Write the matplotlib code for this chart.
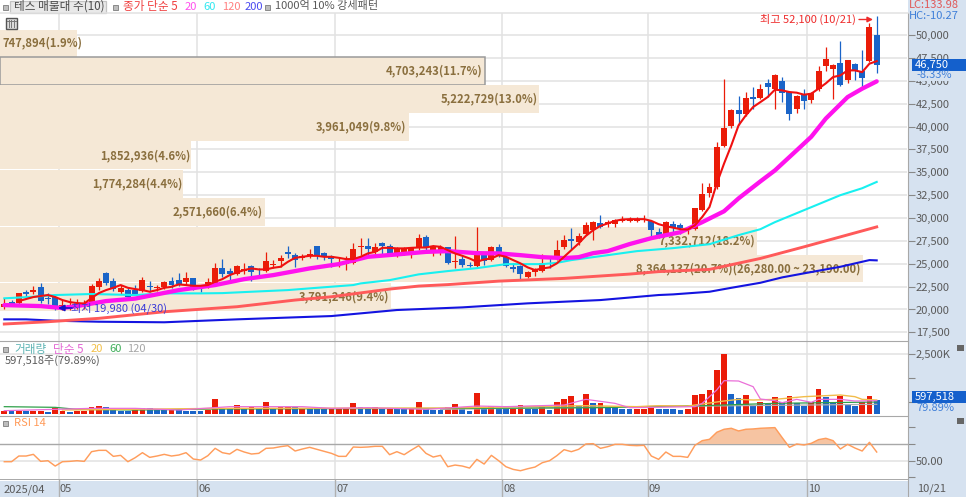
import matplotlib
matplotlib.use("Agg")
import matplotlib.pyplot as plt
from matplotlib.patches import Rectangle

plt.rcParams['font.family'] = ['Noto Sans CJK KR', 'DejaVu Sans']

W, H = 966, 497

# ---- candles (won) ----
opens = [20300,20780,20740,21900,21940,22420,21280,21400,20100,20300,
         20400,20350,20780,22480,23980,23100,21940,22120,22120,22050,
         22560,22350,22480,23070,23210,22960,23400,22480,22480,22740,
         24500,24240,23870,24230,24710,24380,24200,24850,25290,26240,
         25980,25580,25870,26890,26200,25870,24960,24930,25040,26820,
         26960,26300,27250,26960,25940,26300,26020,26740,27980,26490,
         26300,26780,25200,25510,24850,24740,26020,25400,26780,25770,
         24600,24740,23570,24120,24200,25770,25510,26780,27690,27330,
         28240,28670,29510,29360,29400,29730,29730,29730,29800,29660,
         28420,28240,29400,29290,28670,28780,30930,32790,33400,37880,
         40060,41860,41420,43200,43160,44720,44150,44980,43780,41890,
         43600,42950,44150,46610,46330,46990,45050,46880,46040,47160,50000]
highs = [21250,21030,21800,22120,22550,22930,21790,21500,21030,21250,
         21150,21000,22800,23490,24120,23430,22670,22340,22670,23570,
         23060,22670,23100,23540,24000,24090,23450,22670,23430,25090,
         25560,24560,24820,25100,24820,24490,26300,25400,25910,26930,
         26160,26060,26630,26960,26300,25940,25620,25800,27220,27800,
         27870,27220,27400,27110,26850,26850,26850,28210,28130,27000,
         27000,26850,28040,25940,25150,29030,26250,26950,27110,25940,
         25040,24850,24200,24490,26020,25800,27580,28130,28930,28320,
         29580,29650,30310,29800,29870,30200,30100,30100,30310,29770,
         28890,29650,29660,29500,28970,31150,33830,33870,38320,45170,
         41970,43340,43810,44320,44700,45170,45710,45400,43860,43500,
         44150,43780,46630,48690,46880,49350,47300,46950,48330,51300,52100]
lows = [20050,20370,20600,21250,21690,20700,20600,19980,19950,19980,
        20000,20000,20600,22120,22700,22000,21690,21250,21580,21880,
        21940,22000,22200,22300,22600,22670,22120,21900,22370,22670,
        23540,22900,23760,23870,23100,23760,24120,24490,24600,25620,
        24600,25400,25620,25510,25400,24600,24600,24300,24930,26000,
        26000,25940,26000,25800,25760,26000,25650,26490,26300,25900,
        26000,25000,24500,24700,24600,24650,24850,25300,25770,24670,
        24120,23240,23400,23650,24120,24500,25400,26650,26650,27050,
        28130,27580,28860,29030,29060,29580,29580,29580,29580,27950,
        27800,28100,28510,28290,28290,28670,30820,32290,33230,37770,
        39850,40140,41190,41960,43000,43230,41900,42660,40760,41530,
        41880,42560,43900,46040,42980,44400,44750,45050,44250,47050,45850]
closes = [20590,20560,21760,21690,22120,20960,21170,20100,20500,20480,
          20550,20500,22600,23070,22900,22200,22300,21320,21690,23190,
          22420,22500,22960,22660,22740,23400,22300,22370,22960,24570,
          23900,23840,24710,24420,24120,24270,25290,24930,25620,26090,
          25400,25870,26090,25870,25800,25470,25100,25150,26600,26930,
          26600,26850,26960,26020,26670,26600,26670,27830,26850,26780,
          26850,25040,25280,24850,24740,25940,25320,26780,25940,24740,
          24380,23870,24120,24420,25070,25580,26490,27580,27510,27990,
          29220,29580,29030,29580,29760,29840,29870,29870,29900,28670,
          28050,29580,28860,28860,28860,31110,32610,33400,37770,39890,
          41860,41420,43120,43050,44100,44360,45600,43710,41420,43340,
          42790,43710,46070,47420,46770,44510,47240,46040,45300,50870,46750]

# ---- price moving averages (won) ----
ma5_x = list(range(2, 121))
ma5 = [20920,21140,21360,21470,21580,21360,21030,20810,20700,20650,
       21250,21790,22120,22370,22670,22370,22230,22120,21940,22120,
       22370,22480,22740,22670,22590,22590,22670,23030,23320,23760,
       24050,24310,24490,24380,24380,24560,24670,25210,25650,25760,
       25870,25870,25760,25760,25650,25510,25510,25760,26130,26300,
       26740,26740,26680,26680,26740,26780,26780,26930,26850,26490,
       26130,25870,25580,25210,25470,25580,25940,25760,25400,25040,
       24600,24310,24490,24600,25040,25760,26490,27220,28050,28670,
       29140,29410,29690,29840,29880,29880,29880,29690,29330,29110,
       28950,28780,28740,29210,30120,31210,33770,35950,37950,40140,
       41230,42140,42680,43230,44040,43960,43780,43710,43490,43600,
       44150,44730,45420,45600,46150,46150,45960,46880,47160]
ma20_x = [0,5,8,10,14,18,24,29,33,37,42,46,50,54,58,61,65,68,71,74,77,79,81,83,86,89,91,93,96,99,101,104,106,109,111,113,116,118,120]
ma20 = [20480,20370,20160,20370,20920,21190,22120,22670,23320,23760,24490,24960,25760,26020,26300,26380,26160,26130,25940,25720,25620,25720,26160,26380,27150,27800,28130,28450,29550,30740,32150,34010,35210,37410,38890,40880,43230,44150,44950]
ma60_x = [0,4,7,12,18,22,27,30,34,39,43,48,49,53,57,61,65,69,74,76,78,83,87,92,97,101,104,106,110,115,118,120]
ma60 = [21220,21390,21580,21690,21580,21760,21760,21790,21940,22120,22370,22670,22850,23210,23840,24200,24520,24960,24960,25100,25400,25940,26380,26710,27140,28130,28780,29550,30860,32500,33260,33950]
ma120_x = [0,6,13,22,32,40,45,53,57,61,68,77,86,90,97,104,110,115,120]
ma120 = [18410,18660,19030,19750,20300,21030,21390,22230,22560,22720,23100,23400,23870,24140,24380,25580,26850,27940,29030]
ma200_x = [0,3,7,13,22,32,45,54,63,72,82,90,92,97,100,104,107,110,115,119,120]
ma200 = [18920,18920,18770,18660,18600,18920,19280,19940,20230,20670,21030,21580,21650,21940,22370,22920,23510,23950,24670,25400,25370]

# ---- volume-at-price bands ----
vp_top = [50620,47560,44510,41450,38390,35280,32170,29060,25930,22940]
vp_bottom = [47600,44550,41490,38430,35320,32210,29100,25970,22980,19860]
vp_volume = [747894,4703243,5222729,3961049,1852936,1774284,2571660,7332712,8364137,3791246]
vp_labels = ['747,894(1.9%)','4,703,243(11.7%)','5,222,729(13.0%)','3,961,049(9.8%)',
             '1,852,936(4.6%)','1,774,284(4.4%)','2,571,660(6.4%)','7,332,712(18.2%)',
             '8,364,137(20.7%)(26,280.00 ~ 23,190.00)','3,791,246(9.4%)']
vp_label_shift = [5,-3,-1,-2,-1,-1,-3,-1,-3,-2]

# ---- volume (thousand shares) ----
volume = [139,111,125,111,139,139,97,250,139,97,
          111,139,306,347,278,167,139,139,167,264,
          236,167,167,167,153,139,139,139,167,639,
          236,194,375,208,306,208,486,208,306,306,
          306,194,194,194,194,194,194,194,444,306,
          194,306,208,208,208,208,208,486,208,153,
          153,306,417,208,125,861,236,333,208,208,
          208,375,208,208,333,153,486,639,750,333,
          833,444,458,278,278,208,208,208,208,264,
          208,208,208,153,208,792,833,986,1833,2500,
          833,681,792,389,500,403,722,486,750,444,
          333,486,1056,722,486,764,375,333,514,764,598]
volume_side = ("RBRBRRBRRB" "RRRRBBBBRR" "BBBRBBBBRR" "BBRBRBRBRR" "BRBBBRRRRB"
               "BRBRBBRRBB" "BRRBBRBRBB" "RRBBRBRRRB" "RBRBBBBRRR" "BBBBRRRRRR"
               "BBRBRBRBRB" "BRRBBRBBRRB")
vma5_x = [0,12,14,18,24,31,41,45,50,58,65,69,77,80,84,86,95,96,98,99,101,103,104,106,107,109,111,112,115,117,120]
vma5 = [139,236,236,236,167,306,306,236,264,194,333,306,375,611,444,264,306,444,1000,1389,1375,1139,625,556,472,611,486,611,611,542,556]
vma20_x = [8,30,60,80,87,90,94,99,101,103,106,110,115,117,118,120]
vma20 = [167,236,250,347,306,347,333,542,611,583,611,722,792,722,611,583]
vma60_x = [0,7,10,18,29,45,65,82,88,96,106,120]
vma60 = [306,278,194,167,208,222,236,264,306,347,444,500]
vma120_x = [60,87,120]
vma120 = [194,306,403]

# ---- RSI ----
rsi = [48.8,48.8,55.6,55.6,57.6,49.2,50,43.6,48.8,49.2,
       50,49.2,60.8,62.4,62.4,55.2,56.4,48.8,53.6,59.6,
       54,55.6,57.6,55.6,56.8,59.6,52,50.8,56,64.8,
       59.6,58,63.6,60.4,58,58.8,64.8,65.2,66.8,68,
       61.6,64,66,63.6,61.2,58.8,55.2,55.2,66.4,66,
       66.4,67.2,67.2,57.2,60.8,57.2,62.8,68,58.8,54.4,
       56.4,42.8,44.8,43.6,41.2,51.6,46,56.4,50,42.8,
       39.6,38,40.4,42.4,47.6,50,56,63.2,60.8,63.6,
       70,70.4,64.8,66.8,69.6,69.6,68.4,68,68.4,55.6,
       51.6,60.4,55.2,55.2,54,68.4,74,75.6,84,87.6,
       88.8,85.6,87.6,88,88.8,89.2,89.6,77.6,66,70,
       68.8,70.8,75.2,76.8,74,64,69.6,65.2,61.6,72,60.4]

# ---- axis labels ----
price_ticks = [17500,20000,22500,25000,27500,30000,32500,35000,37500,40000,42500,45000,47500,50000]
month_pos = [-0.25, 7.5, 26.5, 45.5, 68.5, 88.5, 110.4]
month_labels = ['2025/04','05','06','07','08','09','10']

RED = '#ea1c08'
BLUE = '#1a64c8'
GRID = '#e2e2e2'
PANEL = '#d6e2f0'
BORDER = '#a8a8a8'
TXT = '#5a5a5a'
BAND = '#f5e8d6'
BANDTXT = '#8a6f3e'
FS = 8.0

fig = plt.figure(figsize=(W/100, H/100), dpi=100, facecolor='white')

def rect(x0, y0, x1, y1):
    return [x0/W, 1-y1/H, (x1-x0)/W, (y1-y0)/H]

XR = 907.5
XLIM = (-4.3/7.27, (XR-4.3)/7.27)

back = fig.add_axes([0, 0, 1, 1], zorder=-5)
back.set_xlim(0, W); back.set_ylim(H, 0); back.axis('off')
back.add_patch(Rectangle((XR, 0), W-XR, H, fc=PANEL, ec='none'))
back.add_patch(Rectangle((0, 481), W, H-481, fc=PANEL, ec='none'))

PRICE_LIM = (16552, 52480)
grid_ax = fig.add_axes(rect(0, 12.5, XR, 341), zorder=0)
grid_ax.set_xlim(XLIM); grid_ax.set_ylim(PRICE_LIM); grid_ax.axis('off')
grid_ax.hlines(price_ticks, XLIM[0], XLIM[1], color=GRID, lw=1.1)
grid_ax.vlines(month_pos[1:], *PRICE_LIM, color=GRID, lw=1.1)

vp_ax = fig.add_axes(rect(0, 12.5, XR, 341), zorder=1)
vp_ax.set_xlim(0, 8795000); vp_ax.set_ylim(PRICE_LIM); vp_ax.axis('off')
for k, (t, b, v, s, dx) in enumerate(zip(vp_top, vp_bottom, vp_volume, vp_labels, vp_label_shift)):
    current = k == 1
    vp_ax.add_patch(Rectangle((0, b), v, t-b, fc=BAND,
                              ec='#9a9a9a' if current else 'none', lw=1.1))
    vp_ax.annotate(s, xy=(v, (t+b)/2), xytext=(dx, 0), textcoords='offset pixels',
                   ha='right', va='center', fontsize=8.1, color=BANDTXT, fontweight='bold')

ax = fig.add_axes(rect(0, 12.5, XR, 341), zorder=2)
ax.patch.set_alpha(0)
ax.set_xlim(XLIM); ax.set_ylim(PRICE_LIM)
for s in ['top', 'left', 'bottom']:
    ax.spines[s].set_visible(False)
ax.spines['right'].set_color(BORDER)
ax.yaxis.tick_right()
ax.set_yticks(price_ticks)
ax.set_yticklabels([f'{p:,}' for p in price_ticks], fontsize=FS, color=TXT)
ax.tick_params(axis='y', length=5, width=0.8, color='#888888', pad=1)
ax.set_xticks([])

xs = list(range(len(closes)))
colors = [RED if c >= o else BLUE for o, c in zip(opens, closes)]
ax.vlines(xs, lows, highs, colors=colors, lw=0.9, zorder=3)
ax.bar(xs, [abs(c-o) for o, c in zip(opens, closes)], bottom=[min(o, c) for o, c in zip(opens, closes)],
       width=0.82, color=colors, lw=0, zorder=4)
ax.plot(ma200_x, ma200, color='#1414e0', lw=1.5, zorder=5)
ax.plot(ma120_x, ma120, color='#ff5a5a', lw=2.1, zorder=5)
ax.plot(ma60_x, ma60, color='#18f0f0', lw=1.5, zorder=5)
ax.plot(ma20_x, ma20, color='#ff12ee', lw=3.1, zorder=5, solid_capstyle='round')
ax.plot(ma5_x, ma5, color='#f01010', lw=1.5, zorder=6)

# volume panel
vax = fig.add_axes(rect(0, 341, XR, 415.5), zorder=2)
vax.set_xlim(XLIM); vax.set_ylim(-62, 3042)
vax.vlines(month_pos[1:], -62, 3042, color=GRID, lw=1.1, zorder=0)
vax.axhline(2500, color=GRID, lw=1.1, zorder=0)
vax.bar(xs, volume, width=0.8, color=[RED if s == 'R' else BLUE for s in volume_side], lw=0, zorder=2)
vax.plot(vma120_x, vma120, color='#b0b0b0', lw=0.9, zorder=3)
vax.plot(vma60_x, vma60, color='#2fa04a', lw=0.9, zorder=3)
vax.plot(vma20_x, vma20, color='#f2bc4a', lw=1.0, zorder=3)
vax.plot(vma5_x, vma5, color='#ea6fd8', lw=0.9, zorder=4)
vax.yaxis.tick_right()
vax.set_yticks([500, 1500, 2500])
vax.set_yticklabels(['', '', '2,500K'], fontsize=FS, color=TXT)
vax.tick_params(axis='y', length=5, width=0.8, color='#888888', pad=1)
vax.set_xticks([])
for s in ['left', 'bottom']:
    vax.spines[s].set_visible(False)
for s in ['top', 'right']:
    vax.spines[s].set_color(BORDER)

# RSI panel
rax = fig.add_axes(rect(0, 415.5, XR, 479), zorder=2)
rax.set_xlim(XLIM); rax.set_ylim(28.1, 104.1)
rax.vlines(month_pos[1:], 28.1, 104.1, color=GRID, lw=1.1, zorder=0)
rax.axhline(50, color=GRID, lw=1.1, zorder=0)
rax.axhline(70, color='#a8a8a8', lw=1.0, zorder=1)
rax.fill_between(xs, 70, rsi, where=[r >= 70 for r in rsi], interpolate=True, color='#f6c4a2', lw=0, zorder=2)
rax.plot(xs, rsi, color='#ff9d5c', lw=1.05, zorder=3)
rax.yaxis.tick_right()
rax.set_yticks([30, 50, 70, 90])
rax.set_yticklabels(['', '50.00', '', ''], fontsize=FS, color=TXT)
rax.tick_params(axis='y', length=5, width=0.8, color='#888888', pad=1)
rax.set_xticks([])
for s in ['left', 'bottom']:
    rax.spines[s].set_visible(False)
for s in ['top', 'right']:
    rax.spines[s].set_color(BORDER)

# date bar
dax = fig.add_axes(rect(0, 479, XR, H), zorder=1)
dax.set_xlim(XLIM); dax.set_ylim(0, 1)
dax.patch.set_alpha(0)
dax.set_xticks([]); dax.set_yticks([])
for s in ['left', 'bottom']:
    dax.spines[s].set_visible(False)
dax.spines['top'].set_color(BORDER); dax.spines['top'].set_linewidth(1.4)
dax.spines['right'].set_color(BORDER)
dax.vlines(month_pos[1:], 0, 1, color='#b0b0b0', lw=1.0)
for p, s in zip(month_pos, month_labels):
    dax.text(p+0.15, 0.42, s, fontsize=FS, color=TXT, ha='left', va='center')

# chrome and annotations, in pixel coordinates
ui = fig.add_axes([0, 0, 1, 1], zorder=10)
ui.set_xlim(0, W); ui.set_ylim(H, 0); ui.axis('off')

def label(x, y, s, color=TXT, ha='left', weight='normal', fs=FS):
    ui.text(x, y, s, color=color, ha=ha, va='center', fontsize=fs, fontweight=weight)

def bullet(x, y):
    ui.add_patch(Rectangle((x-2.5, y-2.5), 5, 5, fc='#bdbdbd', ec='#8a8a8a', lw=0.7))

ui.plot([0, XR], [12.7, 12.7], color=GRID, lw=1.1)
ui.add_patch(Rectangle((9.5, 0.5), 96, 12, fc='#e9e9e9', ec='#c4c4c4', lw=0.9))
bullet(5, 7); bullet(115, 7); bullet(267, 7)
label(14, 6.5, '테스 매물대 수(10)', '#4a4a4a', fs=8.4)
label(123, 6.5, '종가 단순 5', '#f04040', fs=8.4)
label(185, 6.5, '20', '#ff50ee')
label(203, 6.5, '60', '#30e8f0')
label(222, 6.5, '120', '#ff8080')
label(245, 6.5, '200', '#4a4af0')
label(275, 6.5, '1000억 10% 강세패턴', '#5a5a5a')
ui.add_patch(Rectangle((5.5, 17.5), 11.5, 11.5, fc='#dcdcdc', ec='#555555', lw=1.0))
for gx in (8.5, 11, 13.5):
    ui.plot([gx, gx], [20, 27], color='#777777', lw=0.7)
ui.plot([7, 16], [21, 21], color='#777777', lw=0.7)

label(760, 19, '최고 52,100 (10/21)', '#ee2a2a')
ui.annotate('', xy=(873, 19.5), xytext=(859, 19.5),
            arrowprops=dict(arrowstyle='-|>', color='#ee2a2a', lw=1.0, mutation_scale=8, shrinkA=0, shrinkB=0))
label(71, 308, '최저 19,980 (04/30)', '#3c3cd8')
ui.annotate('', xy=(58, 308), xytext=(72, 308),
            arrowprops=dict(arrowstyle='-|>', color='#1414c8', lw=1.2, mutation_scale=9, shrinkA=0, shrinkB=0))

label(909, 5, 'LC:133.98', '#e05858')
label(909, 16, 'HC:-10.27', '#3f7fd8')
ui.add_patch(Rectangle((912, 59), 54, 11.5, fc='#1460cc', ec='none'))
label(915, 64.5, '46,750', 'white')
ui.add_patch(Rectangle((914, 71), 40, 10, fc=PANEL, ec='none'))
label(916, 75.5, '-8.33%', '#3f7fd8')
ui.add_patch(Rectangle((912, 391), 54, 11.5, fc='#1460cc', ec='none'))
label(915, 396.5, '597,518', 'white')
label(916, 408, '79.89%', '#3f7fd8')
label(917, 489, '10/21', TXT)

for yy in (348, 421):
    ui.add_patch(Rectangle((957, yy-3), 7, 6, fc='#666666', ec='none'))

bullet(5, 349)
label(14, 349, '거래량', '#5fb4b4', fs=8.4)
label(53, 349, '단순 5', '#e468d4', fs=8.4)
label(91, 349, '20', '#f2c048')
label(109, 349, '60', '#3fae5a')
label(127, 349, '120', '#a6a6a6')
label(5, 361, '597,518주(79.89%)', '#5a5a5a')
bullet(5, 423)
label(14, 423, 'RSI 14', '#ff9a58')

fig.savefig('out.png', dpi=100, facecolor='white')
